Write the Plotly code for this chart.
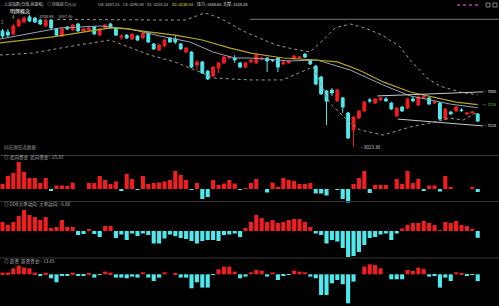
import plotly.graph_objects as go

W, H = 499, 306
RED = "#f01e1e"
CYAN = "#4fe8ec"
ORANGE = "#f0a020"
FONT = "Noto Sans CJK SC, sans-serif"

# ---------------- data ----------------
opens = [3609,3604,3593,3634,3654,3680,3674,3664,3634,3664,3619,3583,3629,3614,3644,3609,3614,3629,3588,3624,
         3644,3624,3578,3588,3568,3583,3573,3598,3543,3512,3533,3573,3568,3543,3502,3502,3437,3452,3406,3381,
         3421,3447,3472,3472,3447,3426,3452,3447,3467,3472,3462,3472,3442,3447,3467,3472,3492,3462,3431,3376,
         3305,3310,3254,3270,3194,3108,3168,3204,3260,3244,3260,3265,3244,3179,3224,3219,3265,3234,3270,3270,
         3244,3244,3163,3199,3204,3209,3189,3194,3189]
highs = [3619,3619,3644,3674,3685,3690,3680,3670,3669,3669,3624,3624,3634,3644,3649,3624,3629,3634,3624,3644,
         3650,3629,3593,3593,3598,3588,3603,3604,3548,3543,3568,3578,3588,3548,3528,3507,3462,3457,3411,3431,
         3452,3482,3482,3487,3452,3452,3467,3492,3477,3477,3467,3477,3457,3462,3487,3482,3497,3467,3436,3381,
         3310,3320,3315,3275,3199,3178,3209,3254,3270,3270,3275,3275,3250,3224,3229,3270,3275,3285,3290,3275,
         3254,3250,3219,3204,3229,3219,3199,3204,3194]
lows = [3573,3578,3588,3629,3649,3654,3649,3639,3629,3619,3583,3578,3614,3609,3604,3604,3609,3588,3583,3619,
        3619,3583,3563,3568,3563,3558,3568,3548,3512,3507,3528,3548,3543,3512,3497,3421,3411,3391,3361,3376,
        3396,3441,3467,3447,3421,3421,3447,3441,3462,3401,3452,3401,3436,3441,3462,3467,3472,3436,3335,3285,
        3133,3280,3249,3194,3062,3023.3,3163,3199,3244,3239,3254,3249,3209,3173,3199,3214,3249,3229,3265,3234,
        3239,3158,3158,3184,3199,3199,3184,3189,3148]
closes = [3583,3588,3634,3664,3674,3659,3654,3644,3664,3624,3588,3619,3619,3639,3609,3619,3624,3594,3619,3639,
          3624,3588,3583,3573,3593,3563,3598,3553,3518,3538,3563,3553,3553,3518,3523,3426,3452,3396,3366,3426,
          3447,3477,3477,3462,3426,3447,3462,3487,3472,3457,3460,3426,3452,3457,3482,3477,3477,3442,3340,3290,
          3254,3295,3310,3224,3067,3173,3204,3249,3255,3265,3270,3255,3214,3219,3204,3265,3255,3275,3280,3239,
          3249,3163,3214,3189,3224,3206,3194,3199,3153]
idx = list(range(len(opens)))
orange_idx = [15, 36]

# moving average / band knots (bar index, price)
ma_gray_x = [-0.5, 5.1, 10.6, 18.1, 23.6, 29.2, 34.7, 39, 43, 45.8, 53.2, 58.2, 64.4, 70.5, 75.5, 82.9, 88]
ma_gray_y = [3568, 3598, 3624, 3634, 3619, 3583, 3553, 3502, 3472, 3472, 3457, 3462, 3411, 3335, 3280, 3239, 3220.33]
ma_yel_x = [-0.5, 9, 20, 23, 27, 32, 37, 42, 46, 52, 58, 62, 66, 70.5, 75.5, 80.5, 84, 88]
ma_yel_y = [3548, 3578, 3624, 3619, 3604, 3588, 3563, 3523, 3497, 3472, 3462, 3452, 3411, 3351, 3300, 3270, 3249, 3236.54]
bb_up_x = [10.1, 33.8, 37.5, 40.3, 44.5, 50.6, 53.8, 56.9, 59.4, 61.6, 64.4, 67.1, 70.3, 73.6, 75.5, 78.6, 81, 84.7, 88]
bb_up_y = [3667, 3664, 3700, 3674, 3609, 3538, 3518, 3502, 3563, 3624, 3644, 3624, 3588, 3528, 3462, 3371, 3330, 3300, 3285]
bb_lo_x = [-0.5, 5.6, 11.9, 19.9, 27.3, 31.9, 36.6, 39, 45.8, 51.9, 57.5, 60.6, 64.4, 66.2, 70.5, 75.5, 79.2, 82.9, 85.3, 88]
bb_lo_y = [3487, 3497, 3528, 3563, 3487, 3452, 3401, 3371, 3361, 3361, 3427, 3244, 3143, 3108, 3082, 3123, 3143, 3168, 3158, 3199]
resist_x = [69.4, 89.0]
resist_y = [3280, 3300.63]
support_x = [73.2, 89.0]
support_y = [3163, 3128.28]

north = [43.0,111.8,137.6,232.2,146.2,94.6,94.6,51.6,94.6,-12.9,30.1,30.1,25.8,55.9,0,0,51.6,51.6,111.8,77.4,
         43.0,64.5,-17.2,129.0,86.0,-2.6,111.8,43.0,51.6,55.9,64.5,77.4,154.8,120.4,77.4,-4.3,51.6,-86.0,-68.8,77.4,
         34.4,47.3,77.4,47.3,-4.3,4.3,51.6,86.0,0,-30.1,55.9,12.9,94.6,77.4,68.8,43.0,43.0,51.6,-38.7,-38.7,
         -55.9,0,-4.3,-86.0,-116.1,43.0,94.6,154.8,-34.4,34.4,34.4,34.4,0,86.0,43.0,154.8,51.6,86.0,-17.2,30.1,
         30.1,-21.5,111.8,17.2,0,0,0,17.2,-25.87]
ddx = [9,6,9,15,21,16,14,11,14,3,4,11,4,4,-4,-3,1.5,-3,-6,5,
       5,-7,-3.5,-9,-2.5,-5,-2.5,-4,-12.5,-12.5,-7.5,-3.5,-5,-7,-8,-10,-12.5,-10,-9,-9,
       -10,-4,-3.5,-2.5,-6,3,9,16,13,9,11,8,9,11,12,12,9,4,-2.5,-4,
       -12.5,-9,-10.5,-17,-26,-25,-21,-14,-7,-6,-3.5,-2.5,-9,-2.5,2.5,6,8,8,10,8,
       6,1,9,8,10,6,5,2,-6.80]
youzi = [3.4,3.4,12,17.4,13.4,12,3.4,-3.4,3.4,-8,-16,-3.4,-2.6,3.4,-2.6,-2.6,2,-6.6,-1.4,5.4,
         3.4,-6.6,-6.6,-8,-4.6,-6.6,4,-6.6,-13.4,-6.6,4,0,2,-6.6,-6.6,-28,-16,-26.6,-26.6,-1.4,
         10,15.4,15.4,5.4,-8,-4.6,4,8.6,7.4,-4.6,4,-11.4,-2.6,-1.4,7.4,5.4,4,-4.6,-8,-41.4,
         -41.4,-18,-11.4,-20,-58,-14.6,0,15.4,20,18.6,12,0,-10,-10,-10,8.6,6.6,13.4,10.6,-4.6,
         -2.6,-26.6,-6.6,-13.4,4,2,-2.6,-1.4,-13.65]

header_items = [
    (2, "上证指数(日线,前复权)", "#c8c8c8"),
    (45, "◎ 抄底区力(5,5)", "#c8c8c8"),
    (96, "U8: 3307.23", "#c8c8c8"),
    (121, "L8: 3198.04", "#c8c8c8"),
    (145, "X1: 3220.33", "#c8c8c8"),
    (170, "X2: 3236.54", "#e6e040"),
    (195, "压力: 3300.63", "#e0e0e0"),
    (221, "支撑: 3128.28", "#e0e0e0"),
]
panel_labels = [
    (157.5, "◎ 北向资金  北向资金: -25.87"),
    (204.5, "◎ DDX大单动向  大单动向: -6.80"),
    (261.0, "◎ 游资  游资资金: -13.65"),
]

# ---------------- figure ----------------
def py(y):
    return 1 - y / H

def px(x):
    return x / W

fig = go.Figure()

fig.add_trace(go.Candlestick(
    x=idx, open=opens, high=highs, low=lows, close=closes,
    increasing=dict(line=dict(color=RED, width=1), fillcolor=RED),
    decreasing=dict(line=dict(color=CYAN, width=1), fillcolor=CYAN),
    whiskerwidth=0, showlegend=False, hoverinfo="skip", xaxis="x", yaxis="y"))
# highlighted (orange) candle bodies drawn over the regular ones
fig.add_trace(go.Bar(
    x=[idx[i] for i in orange_idx],
    y=[abs(closes[i] - opens[i]) for i in orange_idx],
    base=[min(closes[i], opens[i]) for i in orange_idx],
    width=0.72, marker=dict(color=ORANGE, line=dict(width=0)),
    showlegend=False, hoverinfo="skip", xaxis="x", yaxis="y"))

def line(xs, ys, color, dash="solid", width=1):
    fig.add_trace(go.Scatter(x=xs, y=ys, mode="lines", line=dict(color=color, width=width, dash=dash),
                             showlegend=False, hoverinfo="skip", xaxis="x", yaxis="y"))

line(bb_up_x, bb_up_y, "#9a9a9a", "dot", 1)
line(bb_lo_x, bb_lo_y, "#9a9a9a", "dot", 1)
line(ma_gray_x, ma_gray_y, "#98a4b4", "solid", 1)
line(ma_yel_x, ma_yel_y, "#b4a428", "solid", 1.2)
line(resist_x, resist_y, "#c8c8c8", "solid", 1)
line(support_x, support_y, "#c8c8c8", "solid", 1)

for vals, ax in ((north, "y2"), (ddx, "y3"), (youzi, "y4")):
    fig.add_trace(go.Bar(x=idx, y=vals, width=0.76,
                         marker=dict(color=[RED if v >= 0 else CYAN for v in vals], line=dict(width=0)),
                         showlegend=False, hoverinfo="skip", xaxis="x", yaxis=ax))

ann = []
for x, t, c in header_items:
    ann.append(dict(x=px(x), y=py(4.5), xref="paper", yref="paper", text=t, showarrow=False,
                    xanchor="left", yanchor="middle", font=dict(family=FONT, size=4.0, color=c)))
for y, t in panel_labels:
    ann.append(dict(x=px(2), y=py(y), xref="paper", yref="paper", text=t, showarrow=False,
                    xanchor="left", yanchor="middle", font=dict(family=FONT, size=4.6, color="#b4b4b4")))
ann.append(dict(x=px(8), y=py(11.5), xref="paper", yref="paper", text="明牌概念", showarrow=False,
                xanchor="left", yanchor="middle", font=dict(family=FONT, size=5.0, color="#ffffff")))
ann.append(dict(x=px(37), y=py(15.5), xref="paper", yref="paper", text="3708.94", showarrow=False,
                xanchor="left", yanchor="middle", font=dict(family=FONT, size=4.0, color="#c0c0c0")))
ann.append(dict(x=px(56), y=py(15.5), xref="paper", yref="paper", text="3697.46", showarrow=False,
                xanchor="left", yanchor="middle", font=dict(family=FONT, size=4.0, color="#a0a0a0")))
ann.append(dict(x=px(2), y=py(147), xref="paper", yref="paper", text="同花顺形态数据", showarrow=False,
                xanchor="left", yanchor="middle", font=dict(family=FONT, size=4.6, color="#909090")))
# low label and right-side price labels
ann.append(dict(x=65.6, y=3021, xref="x", yref="y", text="─3023.30", showarrow=False,
                xanchor="left", yanchor="middle", font=dict(family=FONT, size=4.6, color="#d0d0d0")))
ann.append(dict(x=px(498), y=resist_y[-1], xref="paper", yref="y", text="• 3300", showarrow=False,
                xanchor="right", yanchor="middle", font=dict(family=FONT, size=3.8, color="#e8e8e8")))
ann.append(dict(x=px(498), y=ma_yel_y[-1], xref="paper", yref="y", text="← 3236", showarrow=False,
                xanchor="right", yanchor="middle", font=dict(family=FONT, size=3.8, color="#40c040")))
ann.append(dict(x=px(498), y=support_y[-1], xref="paper", yref="y", text="• 3128", showarrow=False,
                xanchor="right", yanchor="middle", font=dict(family=FONT, size=3.8, color="#e8e8e8")))
for i, t in ((0, "2"), (2, "4")):
    ann.append(dict(x=i, y=highs[i] + 12, xref="x", yref="y", text=t, showarrow=False,
                    yanchor="bottom", font=dict(family=FONT, size=4.4, color="#d8c040")))

shapes = []
for y in (155.5, 201.5, 258.0):
    shapes.append(dict(type="line", xref="paper", yref="paper", x0=0, x1=1, y0=py(y), y1=py(y),
                       line=dict(color="#363636", width=1)))
shapes.append(dict(type="line", xref="paper", yref="paper", x0=px(250), x1=1, y0=py(19.3), y1=py(19.3),
                   line=dict(color="#7a7a7a", width=1)))
shapes.append(dict(type="line", xref="paper", yref="paper", x0=px(457), x1=px(481), y0=py(5), y1=py(5),
                   line=dict(color="#b040b0", width=1.5, dash="dot")))
for x0 in (486, 493):
    shapes.append(dict(type="rect", xref="paper", yref="paper", x0=px(x0), x1=px(x0 + 4), y0=py(7), y1=py(3),
                       line=dict(color="#808080", width=1)))

fig.update_layout(
    width=W, height=H, margin=dict(l=0, r=0, t=0, b=0),
    paper_bgcolor="#000000", plot_bgcolor="#000000",
    showlegend=False, annotations=ann, shapes=shapes, boxgap=0.25, barmode="overlay",
    xaxis=dict(domain=[0, 1], range=[-0.463, 91.94], visible=False, rangeslider=dict(visible=False), fixedrange=True),
    yaxis=dict(domain=[py(155), py(8)], range=[2981.2, 3725.0], visible=False),
    yaxis2=dict(domain=[py(204), py(160)], range=[-129.0, 249.4], visible=False, anchor="x"),
    yaxis3=dict(domain=[py(258), py(208)], range=[-27, 23], visible=False, anchor="x"),
    yaxis4=dict(domain=[0, py(262)], range=[-63.4, 24.6], visible=False, anchor="x"),
)

fig.write_html("out.html")
